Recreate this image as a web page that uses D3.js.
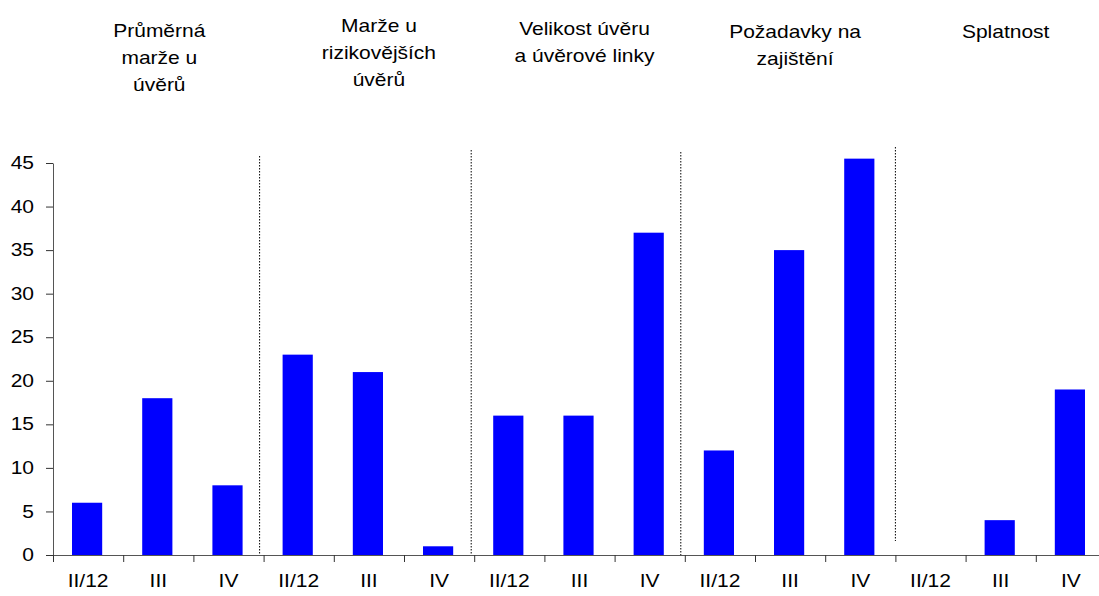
<!DOCTYPE html>
<html>
<head>
<meta charset="utf-8">
<script src="https://cdn.jsdelivr.net/npm/d3@7"></script>
<style>
  body { margin: 0; background: #fff; }
  text { font-family: "Liberation Sans", Arial, sans-serif; fill: #000; }
</style>
</head>
<body>
<div id="chart"></div>
<script>
// data
var groupLabels = [
  ["Průměrná", "marže u", "úvěrů"],
  ["Marže  u", "rizikovějších", "úvěrů"],
  ["Velikost úvěru", "a úvěrové linky"],
  ["Požadavky na", "zajištění"],
  ["Splatnost"]
];
var periods = ["II/12", "III", "IV"];
var values = [6, 18, 8, 23, 21, 1, 16, 16, 37, 12, 35, 45.5, 0, 4, 19];
var yTicks = [0, 5, 10, 15, 20, 25, 30, 35, 40, 45];

var svgWidth = 1099;
var svgHeight = 596;
var stretch = 1.2; // the original text is a bit wider than plain Arial

var svg = d3.select("#chart")
  .append("svg")
  .attr("width", svgWidth)
  .attr("height", svgHeight);

// one slot per bar, 15 slots
var n = values.length;
var step = 70.2;
var x0 = 53;
var xEdge = d3.scaleLinear().domain([0, n]).range([x0, x0 + n * step]);
var yScale = d3.scaleLinear().domain([0, 45]).range([555, 163]);

var barW = step * 0.43;

// bars
svg.append("g").selectAll("rect")
  .data(values)
  .enter()
  .append("rect")
  .attr("x", (d, i) => xEdge(i + 0.5) - barW / 2 - 1)
  .attr("y", d => yScale(d))
  .attr("width", barW)
  .attr("height", d => yScale(0) - yScale(d))
  .attr("fill", "#0000ff");

// dotted separators between groups
var sepShift = [-4, -3, -4, 0];
var sepTop = [156, 150, 152, 147];
var sepBottom = [555, 555, 555, 541];
svg.append("g").selectAll("line")
  .data(sepShift)
  .enter()
  .append("line")
  .attr("x1", (d, i) => xEdge((i + 1) * 3) + d)
  .attr("x2", (d, i) => xEdge((i + 1) * 3) + d)
  .attr("y1", (d, i) => sepTop[i])
  .attr("y2", (d, i) => sepBottom[i])
  .attr("stroke", "#000")
  .attr("stroke-width", 1)
  .attr("stroke-dasharray", "1.5,1.5");

// y axis
var leftAxis = d3.axisLeft(yScale)
  .tickValues(yTicks)
  .tickSize(7)
  .tickSizeOuter(0)
  .tickPadding(12);

var yAxisG = svg.append("g")
  .attr("transform", `translate(${x0}, 0)`)
  .call(leftAxis);
yAxisG.select(".domain").attr("stroke", "#555");
yAxisG.selectAll(".tick line").attr("stroke", "#333");
yAxisG.selectAll(".tick text")
  .attr("font-size", 17.5)
  .attr("x", -19 / stretch)
  .attr("transform", `scale(${stretch},1)`)
  .style("font-family", "'Liberation Sans', Arial, sans-serif");

// x axis: ticks at slot edges
var bottomAxis = d3.axisBottom(xEdge)
  .tickValues(d3.range(0, n + 1))
  .tickFormat("")
  .tickSize(7)
  .tickSizeOuter(0);

var xAxisG = svg.append("g")
  .attr("transform", `translate(0, ${yScale(0)})`)
  .call(bottomAxis);
xAxisG.select(".domain").attr("stroke", "#555");
xAxisG.selectAll(".tick line").attr("stroke", "#333");

// period labels under each bar
svg.append("g").selectAll("text")
  .data(values)
  .enter()
  .append("text")
  .attr("transform", (d, i) => `translate(${xEdge(i + 0.5)}, 587) scale(${stretch},1)`)
  .attr("text-anchor", "middle")
  .attr("font-size", 17.5)
  .text((d, i) => periods[i % 3]);

// group titles on top
var titleDx = [1, 10, 5, 5, 5];
var titleDy = [0, -5, -2, 1, 1];
groupLabels.forEach(function(lines, g) {
  var cx = xEdge(g * 3 + 1.5) + titleDx[g];
  lines.forEach(function(line, k) {
    svg.append("text")
      .attr("transform", `translate(${cx}, ${37 + titleDy[g] + k * 27}) scale(${stretch},1)`)
      .attr("text-anchor", "middle")
      .attr("font-size", 17.5)
      .text(line);
  });
});
</script>
</body>
</html>
